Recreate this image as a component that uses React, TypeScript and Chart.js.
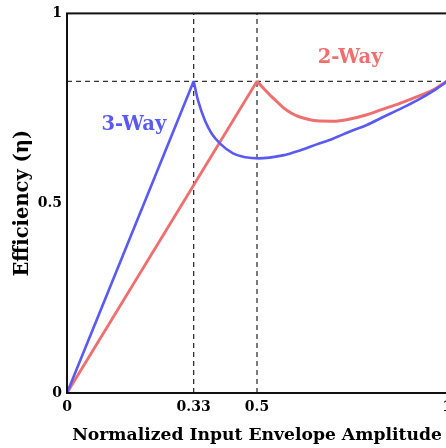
import { useEffect, useRef } from "react";
import { Chart, registerables } from "chart.js";

Chart.register(...registerables);

// ---- data ----
const xTickValues = [0, 1 / 3, 0.5, 1];
const xTickLabels = ["0", "0.33", "0.5", "1"];
const yTickValues = [0, 0.5, 1];
const yTickLabels = ["0", "0.5", "1"];

const peakEfficiency = 0.821;

// 2-Way Doherty
const twoWayX = [0, 0.5, 0.517, 0.534, 0.552, 0.569, 0.591, 0.613, 0.639, 0.657, 0.7, 0.745, 0.789, 0.832, 0.876, 0.92, 0.963, 1.0];
const twoWayY = [0, 0.821, 0.803, 0.785, 0.768, 0.752, 0.737, 0.727, 0.72, 0.717, 0.716, 0.722, 0.733, 0.748, 0.763, 0.78, 0.798, 0.821];
const twoWayPeakIndex = 1;

// 3-Way Doherty
const threeWayX = [0, 1 / 3, 0.345, 0.363, 0.381, 0.403, 0.437, 0.47, 0.504, 0.568, 0.613, 0.657, 0.7, 0.745, 0.789, 0.832, 0.876, 0.92, 0.963, 1.0];
const threeWayY = [0, 0.821, 0.77, 0.718, 0.683, 0.657, 0.631, 0.621, 0.618, 0.626, 0.639, 0.655, 0.67, 0.689, 0.706, 0.727, 0.748, 0.77, 0.795, 0.821];
const threeWayPeakIndex = 1;

// reference lines
const refVerticalX = [1 / 3, 0.5];
const refLineY = [0, 1];

// curve labels
const curveLabels = [
  { text: "2-Way", x: 0.745, y: 0.883, color: "#ef6f6f" },
  { text: "3-Way", x: 0.176, y: 0.705, color: "#5a5af2" },
];

const RED = "#ef6f6f";
const BLUE = "#5a5af2";
const DASH = "#333333";
const FONT = "'DejaVu Serif', serif";

const toPts = (xs: number[], ys: number[]) => xs.map((x, i) => ({ x, y: ys[i] }));

export default function App() {
  const ref = useRef<HTMLCanvasElement | null>(null);

  useEffect(() => {
    if (!ref.current) return;

    const twoPts = toPts(twoWayX, twoWayY);
    const threePts = toPts(threeWayX, threeWayY);

    const curve = (data: any[], color: string, width: number, mono: boolean, order: number) => ({
      data,
      borderColor: color,
      backgroundColor: color,
      borderWidth: width,
      pointRadius: 0,
      showLine: true,
      fill: false,
      tension: 0,
      cubicInterpolationMode: mono ? "monotone" : "default",
      order,
    });

    const dashed = (data: any[]) => ({
      data,
      borderColor: DASH,
      borderWidth: 1.3,
      borderDash: [5, 4],
      pointRadius: 0,
      showLine: true,
      fill: false,
      tension: 0,
      order: 10,
    });

    const datasets: any[] = [
      curve(twoPts.slice(0, twoWayPeakIndex + 1), RED, 2.8, false, 2),
      curve(twoPts.slice(twoWayPeakIndex), RED, 3, true, 2),
      curve(threePts.slice(0, threeWayPeakIndex + 1), BLUE, 2.6, false, 1),
      curve(threePts.slice(threeWayPeakIndex), BLUE, 2.6, true, 1),
      dashed([{ x: 0, y: peakEfficiency }, { x: 1, y: peakEfficiency }]),
      ...refVerticalX.map((vx) => dashed(refLineY.map((y) => ({ x: vx, y })))),
    ];

    const framePlugin = {
      id: "frame",
      afterDatasetsDraw(chart: any) {
        const { ctx, chartArea } = chart;
        ctx.save();
        ctx.strokeStyle = "#111";
        ctx.lineWidth = 2;
        ctx.strokeRect(chartArea.left, chartArea.top, chartArea.right - chartArea.left, chartArea.bottom - chartArea.top);
        ctx.restore();
      },
    };

    const labelPlugin = {
      id: "curveLabels",
      afterDatasetsDraw(chart: any) {
        const { ctx, scales } = chart;
        ctx.save();
        ctx.font = `bold 19.5px ${FONT}`;
        ctx.textAlign = "center";
        ctx.textBaseline = "middle";
        curveLabels.forEach((l) => {
          ctx.fillStyle = l.color;
          ctx.fillText(l.text, scales.x.getPixelForValue(l.x), scales.y.getPixelForValue(l.y));
        });
        ctx.restore();
      },
    };

    const chart = new Chart(ref.current, {
      type: "scatter",
      data: { datasets },
      plugins: [framePlugin, labelPlugin],
      options: {
        animation: false,
        responsive: false,
        maintainAspectRatio: false,
        layout: { padding: { top: 8, right: 23, left: 0, bottom: 0 } },
        plugins: { legend: { display: false }, tooltip: { enabled: false } },
        scales: {
          x: {
            type: "linear",
            min: 0,
            max: 1,
            grid: { display: false, drawTicks: false },
            border: { display: false },
            afterBuildTicks: (s: any) => {
              s.ticks = xTickValues.map((value) => ({ value }));
            },
            afterFit: (s: any) => {
              s.height = 55;
            },
            ticks: {
              autoSkip: false,
              maxRotation: 0,
              padding: 6,
              color: "#000",
              font: { family: FONT, size: 14, weight: "bold" },
              callback: (v: any) => {
                const i = xTickValues.findIndex((t) => Math.abs(t - Number(v)) < 1e-6);
                return i >= 0 ? xTickLabels[i] : "";
              },
            },
            title: {
              display: true,
              text: "Normalized Input Envelope Amplitude",
              color: "#000",
              font: { family: FONT, size: 17.2, weight: "bold" },
              padding: { top: 0, bottom: 2 },
            },
          },
          y: {
            type: "linear",
            min: 0,
            max: 1,
            grid: { display: false, drawTicks: false },
            border: { display: false },
            afterBuildTicks: (s: any) => {
              s.ticks = yTickValues.map((value) => ({ value }));
            },
            afterFit: (s: any) => {
              s.width = 67;
            },
            ticks: {
              autoSkip: false,
              padding: 5,
              color: "#000",
              font: { family: FONT, size: 14, weight: "bold" },
              callback: (v: any) => {
                const i = yTickValues.findIndex((t) => Math.abs(t - Number(v)) < 1e-6);
                return i >= 0 ? yTickLabels[i] : "";
              },
            },
            title: {
              display: true,
              text: "Efficiency (η)",
              color: "#000",
              font: { family: FONT, size: 19.5, weight: "bold" },
              padding: { top: 11, bottom: 0 },
            },
          },
        },
      } as any,
    });

    return () => chart.destroy();
  }, []);

  return (
    <div style={{ position: "fixed", left: 0, top: 0, width: 446, height: 448, overflow: "hidden", background: "#fff" }}>
      <canvas ref={ref} width={470} height={448} style={{ display: "block" }} />
    </div>
  );
}
